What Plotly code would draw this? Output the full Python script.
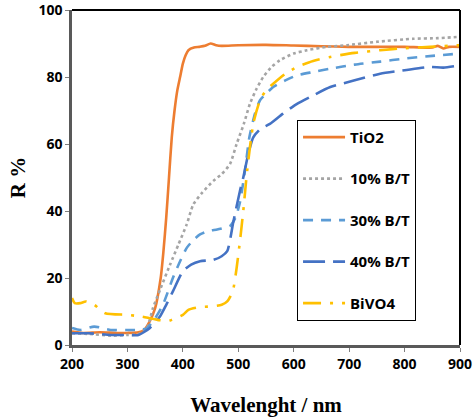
import plotly.graph_objects as go

# ---- data ----
tio2_x = [200, 220, 250, 280, 300, 320, 330, 340, 350, 360, 365, 370, 375, 380, 385, 390, 395, 400, 405, 410,
          420, 430, 440, 450, 460, 470, 500, 550, 600, 650, 700, 750, 800, 850, 860, 870, 880, 900]
tio2_y = [4.0, 3.6, 3.8, 3.6, 3.6, 3.8, 4.5, 7.0, 11.0, 20.0, 28.0, 38.0, 50.0, 62.0, 70.0, 76.0, 80.0, 84.0, 86.5, 88.0,
          88.8, 89.0, 89.3, 90.0, 89.5, 89.3, 89.5, 89.6, 89.4, 89.2, 89.0, 89.0, 89.0, 88.8, 89.3, 88.5, 89.0, 89.0]

b10_x = [200, 230, 270, 300, 320, 335, 346, 360, 377, 392, 407, 419, 435, 455, 470, 485, 497, 510, 521, 533, 545,
         560, 575, 600, 624, 660, 696, 750, 815, 860, 900]
b10_y = [3.5, 3.3, 2.8, 3.0, 3.2, 5.0, 11.0, 17.0, 24.0, 30.0, 36.0, 42.0, 45.5, 49.0, 51.0, 54.0, 60.0, 66.0, 72.0, 76.5, 80.0,
         83.0, 85.0, 87.0, 88.0, 89.0, 89.5, 90.5, 91.4, 91.6, 92.0]

b30_x = [200, 215, 240, 270, 300, 320, 335, 350, 364, 382, 395, 407, 420, 431, 445, 462, 475, 485, 495, 503, 512,
         520, 530, 539, 550, 563, 585, 606, 635, 666, 710, 756, 800, 850, 900]
b30_y = [5.1, 4.5, 5.5, 4.5, 4.5, 4.5, 5.0, 8.0, 12.0, 20.0, 25.0, 29.0, 31.5, 33.0, 34.0, 34.5, 35.0, 35.5, 38.0, 42.6, 52.0,
         62.0, 69.0, 73.0, 75.0, 77.0, 79.0, 80.5, 81.5, 82.5, 83.7, 84.6, 85.5, 86.3, 87.0]

b40_x = [200, 230, 270, 300, 320, 340, 359, 370, 382, 400, 415, 431, 455, 470, 480, 491, 503, 509, 518, 527, 540,
         557, 580, 606, 635, 666, 710, 756, 800, 846, 870, 900]
b40_y = [3.5, 3.5, 3.0, 3.0, 3.0, 5.0, 8.6, 12.0, 16.0, 22.0, 24.0, 25.0, 25.4, 26.5, 28.0, 36.7, 46.0, 50.0, 57.0, 62.0, 64.5,
         66.0, 69.0, 72.0, 74.5, 77.0, 79.0, 81.0, 82.0, 83.0, 82.8, 83.5]

bivo4_x = [200, 205, 215, 225, 240, 260, 300, 325, 340, 355, 370, 380, 400, 410, 430, 450, 470, 480, 490, 497, 503,
           509, 516, 527, 539, 550, 563, 585, 606, 635, 666, 710, 756, 800, 846, 900]
bivo4_y = [14.0, 12.5, 12.5, 13.0, 12.0, 9.5, 9.0, 8.5, 8.0, 7.5, 7.0, 7.5, 9.0, 10.5, 11.3, 11.5, 12.0, 13.0, 16.0, 23.0, 31.0,
           40.0, 52.0, 66.0, 73.0, 76.0, 78.0, 81.0, 83.0, 84.8, 86.0, 87.2, 88.0, 88.6, 89.0, 89.5]

x_ticks = [200, 300, 400, 500, 600, 700, 800, 900]
y_ticks = [0, 20, 40, 60, 80, 100]

series = [
    ("TiO2", tio2_x, tio2_y, "#ED7D31", "solid"),
    ("10% B/T", b10_x, b10_y, "#A5A5A5", "dot"),
    ("30% B/T", b30_x, b30_y, "#5B9BD5", "10px,8px"),
    ("40% B/T", b40_x, b40_y, "#4472C4", "22px,8px"),
    ("BiVO4", bivo4_x, bivo4_y, "#FFC000", "18px,9px,3px,9px"),
]

fig = go.Figure()
for i, (name, xs, ys, col, dash) in enumerate(series):
    fig.add_trace(go.Scatter(
        x=xs, y=ys, name=name, mode="lines", legendgroup=f"g{i}",
        line=dict(color=col, width=2.6, dash=dash, shape="spline", smoothing=0.6),
    ))

tick_font = dict(family="Open Sans", size=14, color="black", weight="bold")
title_font = dict(family="Liberation Serif", size=21, color="black", weight="bold")
fig.update_layout(
    width=473, height=417,
    margin=dict(l=72, r=13, t=10, b=72),
    paper_bgcolor="white", plot_bgcolor="white",
    showlegend=True,
    legend=dict(
        x=0.58, y=0.672, xanchor="left", yanchor="top",
        bgcolor="white", bordercolor="black", borderwidth=1,
        font=dict(family="Open Sans", size=15, color="black", weight="bold"),
        tracegroupgap=19, itemwidth=42,
    ),
    xaxis=dict(
        range=[200, 900], tickvals=x_ticks, ticktext=[str(v) for v in x_ticks],
        showgrid=False, zeroline=False, showline=True, linecolor="#595959", linewidth=2.5,
        ticks="outside", ticklen=4, tickcolor="#7f7f7f", tickfont=tick_font,
        ticklabeloverflow="allow", automargin=False,
        title=dict(text="Wavelenght / nm", font=title_font, standoff=27),
    ),
    yaxis=dict(
        range=[0, 100], tickvals=y_ticks, ticktext=[str(v) for v in y_ticks],
        showgrid=False, zeroline=False, showline=True, linecolor="#595959", linewidth=2.5,
        ticks="outside", ticklen=4, tickcolor="#7f7f7f", tickfont=tick_font,
        ticklabeloverflow="allow", automargin=False,
        title=dict(text="R %", font=title_font, standoff=8),
    ),
    shapes=[
        dict(type="line", xref="paper", yref="paper", x0=0, x1=1, y0=1, y1=1, line=dict(color="black", width=2)),
        dict(type="line", xref="paper", yref="paper", x0=1, x1=1, y0=0, y1=1, line=dict(color="black", width=2)),
    ],
)
fig.write_html("out.html", config={"displayModeBar": False},
               post_script="document.body.style.margin='0';document.body.style.overflow='hidden';")
